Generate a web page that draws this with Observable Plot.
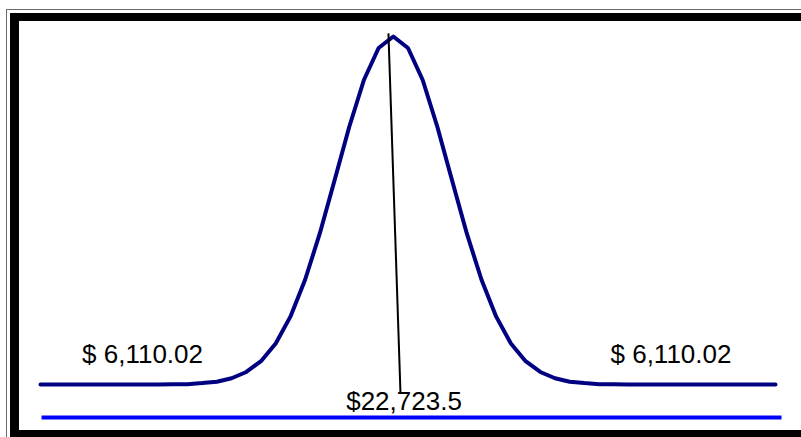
<!DOCTYPE html>
<html>
<head>
<meta charset="utf-8">
<script src="https://cdn.jsdelivr.net/npm/d3@7"></script>
<script src="https://cdn.jsdelivr.net/npm/@observablehq/plot@0.6"></script>
<style>
  html, body { margin: 0; padding: 0; background: #fff; overflow: hidden; }
  #wrap { position: relative; width: 801px; height: 437px; overflow: hidden; background: #fff; }
  #wrap svg { position: absolute; left: 0; top: 0; }
  .outer { position: absolute; left: 6px; top: 9px; width: 1000px; height: 1000px;
           border-left: 1px solid #6a6a6a; border-top: 1px solid #6a6a6a; pointer-events: none; }
  .thick { position: absolute; left: 10px; top: 13px; width: 1000px; height: 409px;
           border-left: 9px solid #000; border-top: 8px solid #000; border-bottom: 9px solid #000;
           pointer-events: none; }
</style>
</head>
<body>
<div id="wrap"></div>
<script>
// Curve sample positions (index units) and relative heights
const xs = [0,1,2,3,4,5,6,7,8,9,10,11,12,13,14,15,16,17,18,19,20,21,22,23,24,25,26,27,28,29,30,31,32,33,34,35,36,37,38,39,40,41,42,43,44,45,46,47,48,49,50];
const heights = [0,0,0,0,0,0,0,0,0,0.001,0.001,0.004,0.008,0.018,0.036,0.067,0.118,0.195,0.301,0.434,0.586,0.740,0.875,0.967,1,
                 0.967,0.875,0.740,0.586,0.434,0.301,0.195,0.118,0.067,0.036,0.018,0.008,0.004,0.001,0.001,0,0,0,0,0,0,0,0,0,0,0];

// Baseline (blue) line
const baseLine = [{x1: 0.07, x2: 50.41, y: -0.095}];
// Mean marker line
const meanLine = [{x1: 23.67, y1: 1.009, x2: 24.49, y2: -0.026}];
// Labels
const labelTexts = ["$ 6,110.02", "$ 6,110.02", "$22,723.5"];
const labelX = [6.94, 42.89, 24.73];
const labelY = [0.063, 0.063, -0.072];

const curve = xs.map((x, i) => ({x, y: heights[i]}));
const labels = labelTexts.map((t, i) => ({t, x: labelX[i], y: labelY[i]}));

const chart = Plot.plot({
  width: 801,
  height: 437,
  margin: 0,
  style: {background: "transparent", fontFamily: "'Liberation Sans', Arial, sans-serif"},
  x: {domain: [0, 50], range: [40, 775], axis: null},
  y: {domain: [0, 1], range: [384, 36], axis: null},
  marks: [
    Plot.line(curve, {x: "x", y: "y", stroke: "#000080", strokeWidth: 4, strokeLinecap: "round", strokeLinejoin: "round"}),
    Plot.link(baseLine, {x1: "x1", x2: "x2", y1: "y", y2: "y", stroke: "#0000ff", strokeWidth: 4, strokeLinecap: "butt"}),
    Plot.link(meanLine, {x1: "x1", y1: "y1", x2: "x2", y2: "y2", stroke: "#000", strokeWidth: 2}),
    Plot.text(labels, {x: "x", y: "y", text: "t", fontSize: 26, fill: "#000", textAnchor: "middle", lineAnchor: "bottom"})
  ]
});

const wrap = document.getElementById("wrap");
wrap.appendChild(chart);
const o = document.createElement("div"); o.className = "outer"; wrap.appendChild(o);
const t = document.createElement("div"); t.className = "thick"; wrap.appendChild(t);
</script>
</body>
</html>
